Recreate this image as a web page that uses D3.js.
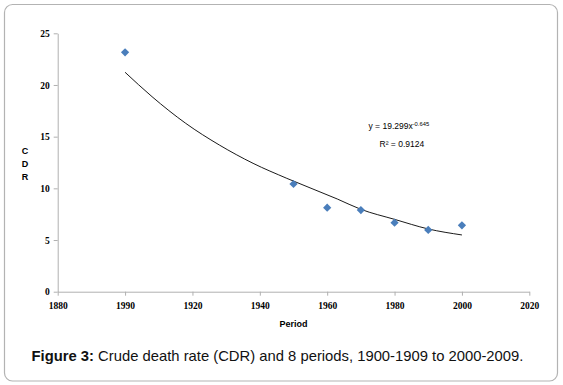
<!DOCTYPE html>
<html>
<head>
<meta charset="utf-8">
<script src="https://cdn.jsdelivr.net/npm/d3@7"></script>
<style>
  html, body { margin: 0; padding: 0; background: #fff; }
  svg { display: block; }
</style>
</head>
<body>
<svg id="chart" width="563" height="385"></svg>
<script>
// ---- data ----
const periods = [1900, 1950, 1960, 1970, 1980, 1990, 2000];
const cdrValues = [23.16, 10.42, 8.13, 7.9, 6.68, 5.97, 6.42];
// trend line
const trendYears = [1900, 1908, 1918, 1928, 1938, 1948, 1963, 1970, 1980, 1990, 2000];
const trendValues = [21.23, 18.87, 16.29, 14.19, 12.42, 10.97, 8.97, 7.97, 7.0, 6.07, 5.49];
const xTicks = [1880, 1900, 1920, 1940, 1960, 1980, 2000, 2020];
const xTickLabels = ["1880", "1990", "1920", "1940", "1960", "1980", "2000", "2020"];
const yTicks = [0, 5, 10, 15, 20, 25];
const equationMain = "y = 19.299x";
const equationExp = "-0.645";
const rSquared = "R² = 0.9124";
const captionBold = "Figure 3:";
const captionText = " Crude death rate (CDR) and 8 periods, 1900-1909 to 2000-2009.";

const svg = d3.select("#chart");

// frame
svg.append("rect")
  .attr("x", 4.5).attr("y", 4.5)
  .attr("width", 553).attr("height", 376.5)
  .attr("rx", 8).attr("ry", 8)
  .attr("fill", "#fff")
  .attr("stroke", "#b3b3b3")
  .attr("stroke-width", 1.2);

const x = d3.scaleLinear().domain([1880, 2020]).range([57.7, 529.3]);
const y = d3.scaleLinear().domain([0, 25]).range([291.7, 33.3]);

const axisColor = "#b0b0b0";
const tickFont = "'Liberation Serif', 'Times New Roman', serif";

// y axis
const yAxis = svg.append("g")
  .attr("transform", `translate(${x(1880)},0)`)
  .call(d3.axisLeft(y).tickValues(yTicks).tickSize(4).tickSizeOuter(0).tickPadding(4));
// x axis
const xAxis = svg.append("g")
  .attr("transform", `translate(0,${y(0)})`)
  .call(d3.axisBottom(x).tickValues(xTicks).tickSize(4).tickSizeOuter(0).tickPadding(7)
    .tickFormat((d, i) => xTickLabels[i]));

[yAxis, xAxis].forEach(g => {
  g.select(".domain").attr("stroke", axisColor);
  g.selectAll(".tick line").attr("stroke", axisColor);
  g.selectAll(".tick text")
    .attr("fill", "#000")
    .style("font-family", tickFont)
    .style("font-weight", "bold")
    .style("font-size", "9.5px");
});

// trend line
const line = d3.line()
  .x((d, i) => x(trendYears[i]))
  .y((d, i) => y(trendValues[i]))
  .curve(d3.curveMonotoneX);
svg.append("path")
  .datum(trendValues)
  .attr("d", line)
  .attr("fill", "none")
  .attr("stroke", "#000")
  .attr("stroke-width", 0.9);

// diamonds
const diamond = d3.symbol().type(d3.symbolSquare).size(34);
svg.append("g").selectAll("path")
  .data(cdrValues)
  .join("path")
  .attr("d", diamond)
  .attr("transform", (d, i) => `translate(${x(periods[i])},${y(d)}) rotate(45)`)
  .attr("fill", "#4a7ebb");

const sans = "'Liberation Sans', Arial, sans-serif";

// axis titles
svg.append("text")
  .attr("x", (x(1880) + x(2020)) / 2)
  .attr("y", 327)
  .attr("text-anchor", "middle")
  .style("font-family", sans)
  .style("font-weight", "bold")
  .style("font-size", "9px")
  .text("Period");

["C", "D", "R"].forEach((c, i) => {
  svg.append("text")
    .attr("x", 25)
    .attr("y", 154 + i * 13)
    .attr("text-anchor", "middle")
    .style("font-family", sans)
    .style("font-weight", "bold")
    .style("font-size", "9px")
    .text(c);
});

// equation
const eq = svg.append("text")
  .attr("x", 368.5)
  .attr("y", 129)
  .style("font-family", sans)
  .style("font-size", "8.5px");
eq.append("tspan").text(equationMain);
eq.append("tspan").attr("dy", -3.5).style("font-size", "5.8px").text(equationExp);

svg.append("text")
  .attr("x", 379.5)
  .attr("y", 146.5)
  .style("font-family", sans)
  .style("font-size", "8.5px")
  .text(rSquared);

// caption
const cap = svg.append("text")
  .attr("x", 31.5)
  .attr("y", 360.5)
  .style("font-family", sans)
  .style("font-size", "14.8px")
  .attr("fill", "#111");
cap.append("tspan").style("font-weight", "bold").text(captionBold);
cap.append("tspan").text(captionText);
</script>
</body>
</html>
